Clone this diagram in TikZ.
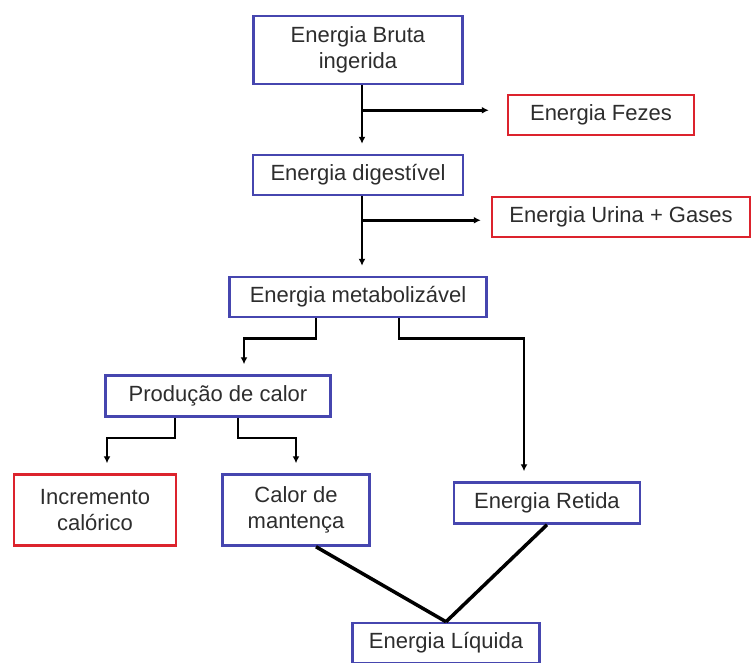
\documentclass[tikz,border=0pt]{standalone}
\usepackage{fontspec}
\setmainfont{Liberation Sans}
\usetikzlibrary{arrows.meta}
\definecolor{boxblue}{RGB}{70,70,175}
\definecolor{boxred}{RGB}{220,35,45}
\definecolor{txtgray}{RGB}{45,45,45}

\begin{document}
\begin{tikzpicture}[x=1pt,y=-1pt,
		bx/.style={rectangle,draw=boxblue,line width=2.5pt,text=txtgray,align=center,inner sep=0pt,font=\fontsize{22}{26}\selectfont},
		rbx/.style={bx,draw=boxred},
		fl/.style={line width=2.5pt,-{Latex[length=7pt,width=7pt]},shorten >=10pt},
		ln/.style={line width=3.5pt}]
		\useasboundingbox (0,0) rectangle (754,662);
		\node[bx,minimum width=209pt,minimum height=68pt] (bruta) at (358,50) {Energia Bruta\\ingerida};
		\node[rbx,minimum width=186pt,minimum height=40pt] (fezes) at (601,115) {Energia Fezes};
		\node[bx,minimum width=210pt,minimum height=40pt] (dig) at (358,175) {Energia digestível};
		\node[rbx,minimum width=258pt,minimum height=40pt] (urina) at (621,217) {Energia Urina + Gases};
		\node[bx,minimum width=257pt,minimum height=40pt] (metab) at (358,297) {Energia metabolizável};
		\node[bx,minimum width=225pt,minimum height=41pt] (prod) at (218,396) {Produção de calor};
		\node[rbx,minimum width=162pt,minimum height=71pt] (inc) at (95,510) {Incremento\\calórico};
		\node[bx,minimum width=147pt,minimum height=71pt] (calor) at (296,510) {Calor de\\mantença};
		\node[bx,minimum width=186pt,minimum height=41pt] (ret) at (547,503) {Energia Retida};
		\node[bx,minimum width=187pt,minimum height=40pt] (liq) at (446,643) {Energia Líquida};
		% perdas
		\coordinate (bs) at ([xshift=4pt]bruta.south);
		\coordinate (ds) at ([xshift=4pt]dig.south);
		\coordinate (bf) at ([yshift=-25pt]bs);
		\coordinate (du) at ([yshift=-24pt]ds);
		\draw[fl] (bs) -- (bs |- dig.north);
		\draw[fl,shorten >=18pt] (bf) -- (bf -| fezes.west);
		\draw[fl] (ds) -- (ds |- metab.north);
		\draw[fl] (du) -- (du -| urina.west);
		% ramos
		\draw[fl] ([xshift=-42pt]metab.south) -- ++(0,20) -| ([xshift=26pt]prod.north);
		\draw[fl] ([xshift=41pt]metab.south) -- ++(0,20) -| ([xshift=-23pt]ret.north);
		\draw[fl] ([xshift=-43pt]prod.south) -- ++(0,20) -| ([xshift=12pt]inc.north);
		\draw[fl] ([xshift=20pt]prod.south) -- ++(0,20) -| (calor.north);
		\draw[ln] ([xshift=20pt]calor.south) -- (liq.north);
		\draw[ln] (ret.south) -- (liq.north);
	\end{tikzpicture}
\end{document}
